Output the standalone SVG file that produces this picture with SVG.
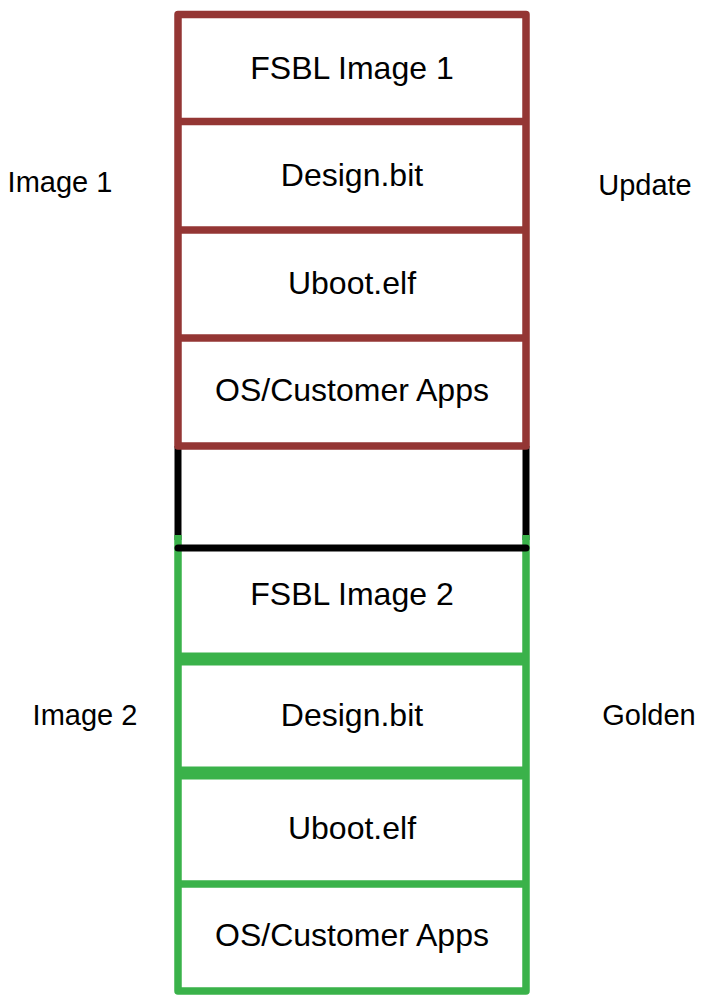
<svg xmlns="http://www.w3.org/2000/svg" width="721" height="999" viewBox="0 0 721 999">
<style>
.t{font-family:"Liberation Sans",Arial,sans-serif;fill:#000;text-anchor:middle}
.b{font-size:32px}
.s{font-size:29px}
.red{fill:none;stroke:#943634;stroke-width:7.5;stroke-linejoin:round}
.grn{fill:none;stroke:#3AB24A;stroke-width:7.5;stroke-linejoin:round}
.blk{fill:none;stroke:#000;stroke-width:7;stroke-linejoin:round}
</style>
<rect width="721" height="999" fill="#fff"/>
<g id="connectors"></g>
<g id="label-image1"><text class="t s" x="60" y="192">Image 1</text></g>
<g id="label-update"><text class="t s" x="645" y="195">Update</text></g>
<g id="label-image2"><text class="t s" x="85" y="725">Image 2</text></g>
<g id="label-golden"><text class="t s" x="649" y="725">Golden</text></g>
<g id="gap">
<path class="blk" d="M178,446 V540 M526,446 V540"/>
</g>
<g id="image2">
<path class="grn" d="M178,535 V991 H526 V535"/>
<line class="grn" x1="178" y1="659" x2="526" y2="659" style="stroke-width:13"/>
<line class="grn" x1="178" y1="773" x2="526" y2="773" style="stroke-width:13"/>
<line class="grn" x1="178" y1="884" x2="526" y2="884"/>
<text class="t b" x="352" y="605">FSBL Image 2</text>
<text class="t b" x="352" y="726">Design.bit</text>
<text class="t b" x="352" y="839">Uboot.elf</text>
<text class="t b" x="352" y="946">OS/Customer Apps</text>
</g>
<g id="gap-bottom"><line class="blk" x1="178" y1="548" x2="526" y2="548" style="stroke-linecap:round"/></g>
<g id="image1">
<rect class="red" x="178" y="14.5" width="348" height="431.5"/>
<line class="red" x1="178" y1="121.5" x2="526" y2="121.5"/>
<line class="red" x1="178" y1="230" x2="526" y2="230"/>
<line class="red" x1="178" y1="338" x2="526" y2="338"/>
<text class="t b" x="352" y="79">FSBL Image 1</text>
<text class="t b" x="352" y="186">Design.bit</text>
<text class="t b" x="352" y="294">Uboot.elf</text>
<text class="t b" x="352" y="401">OS/Customer Apps</text>
</g>
</svg>
